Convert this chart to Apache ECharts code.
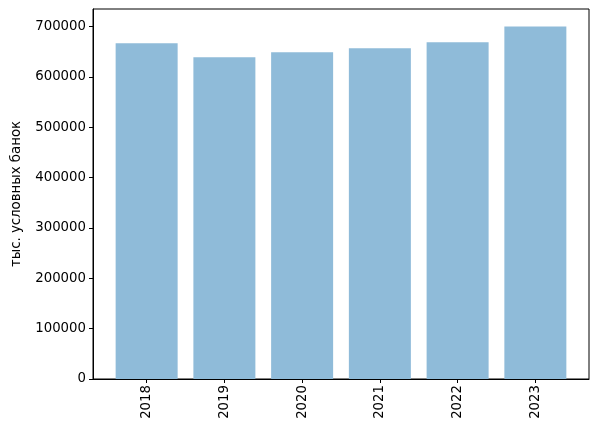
<!DOCTYPE html>
<html><head><meta charset="utf-8">
<script src="https://cdn.jsdelivr.net/npm/echarts@6/dist/echarts.min.js"></script>
<style>html,body{margin:0;padding:0;background:#fff}#c{width:598px;height:434px}</style>
</head><body><div id="c"></div>
<script>
const categories = ['2018','2019','2020','2021','2022','2023'];
const values = [667000, 639000, 649000, 657000, 669000, 700000];
const yTicks = [0,100000,200000,300000,400000,500000,600000,700000];
const yLabel = 'тыс. условных банок';

const xIdx = categories.map((c,i)=>i);
const chart = echarts.init(document.getElementById('c'), null, {renderer:'canvas'});
const font = 'DejaVu Sans';
chart.setOption({
  animation:false,
  grid:{left:93,right:9,top:9,bottom:55,show:true,borderColor:'#000',borderWidth:1,backgroundColor:'transparent'},
  xAxis:{
    type:'value', min:-0.69, max:5.69,
    splitLine:{show:false},
    axisLine:{show:true,onZero:false,lineStyle:{color:'#000',width:1}},
    axisTick:{show:true,length:4,lineStyle:{color:'#000'},customValues:xIdx},
    axisLabel:{customValues:xIdx,rotate:90,margin:6,color:'#000',fontFamily:font,fontSize:13.3,
      formatter:v=>categories[Math.round(v)]}
  },
  yAxis:{
    type:'value', min:0, max:735000,
    name:yLabel, nameLocation:'middle', nameGap:70,
    nameTextStyle:{color:'#000',fontFamily:font,fontSize:13.3},
    splitLine:{show:false},
    axisLine:{show:true,onZero:false,lineStyle:{color:'#000',width:1}},
    axisTick:{show:true,length:4,lineStyle:{color:'#000'},customValues:yTicks},
    axisLabel:{customValues:yTicks,margin:7,color:'#000',fontFamily:font,fontSize:13.3,
      formatter:v=>String(v)}
  },
  series:[{
    type:'bar',
    data:values.map((v,i)=>[i,v]),
    barWidth:62,
    itemStyle:{color:'#8fbbd9',borderWidth:0}
  }]
});
</script></body></html>
